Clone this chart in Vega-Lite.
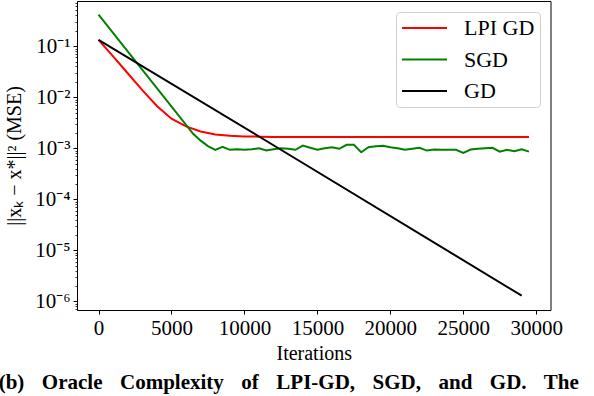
{
  "$schema": "https://vega.github.io/schema/vega-lite/v6.json",
  "width": 473.5,
  "height": 309,
  "autosize": {"type": "none"},
  "padding": {"left": 77, "top": 1, "right": 43.5, "bottom": 86},
  "config": {
    "font": "Liberation Serif",
    "view": {"stroke": "black", "strokeWidth": 1},
    "axis": {"domain": false, "grid": false, "tickColor": "black", "labelColor": "black", "titleColor": "black", "labelFont": "Liberation Serif", "titleFont": "Liberation Serif", "labelFontSize": 21, "titleFontSize": 20, "titleFontWeight": "normal"},
    "legend": {"labelFont": "Liberation Serif"},
    "title": {"font": "Liberation Serif"}
  },
  "title": {
    "text": "(b)\u2002\u200a Oracle\u2002\u200a Complexity\u2002\u200a of\u2002\u200a LPI-GD,\u2002\u200a SGD,\u2002\u200a and\u2002\u200a GD.\u2002\u200a The",
    "orient": "bottom",
    "anchor": "start",
    "frame": "bounds",
    "font": "Liberation Serif",
    "fontSize": 21,
    "fontWeight": "bold",
    "color": "black",
    "offset": 9,
    "dx": -6
  },
  "data": {
    "values": [
      {"method": "LPI GD", "iter": 0, "mse": 0.133},
      {"method": "LPI GD", "iter": 1000, "mse": 0.063},
      {"method": "LPI GD", "iter": 2000, "mse": 0.0295},
      {"method": "LPI GD", "iter": 3000, "mse": 0.0138},
      {"method": "LPI GD", "iter": 4000, "mse": 0.00676},
      {"method": "LPI GD", "iter": 5000, "mse": 0.0038},
      {"method": "LPI GD", "iter": 6000, "mse": 0.00269},
      {"method": "LPI GD", "iter": 7000, "mse": 0.00214},
      {"method": "LPI GD", "iter": 8000, "mse": 0.00186},
      {"method": "LPI GD", "iter": 9000, "mse": 0.00176},
      {"method": "LPI GD", "iter": 10000, "mse": 0.00171},
      {"method": "LPI GD", "iter": 11000, "mse": 0.00169},
      {"method": "LPI GD", "iter": 12000, "mse": 0.00167},
      {"method": "LPI GD", "iter": 15000, "mse": 0.00167},
      {"method": "LPI GD", "iter": 20000, "mse": 0.00167},
      {"method": "LPI GD", "iter": 25000, "mse": 0.00167},
      {"method": "LPI GD", "iter": 29500, "mse": 0.00167},
      {"method": "SGD", "iter": 0, "mse": 0.413},
      {"method": "SGD", "iter": 6500, "mse": 0.0019},
      {"method": "SGD", "iter": 7000, "mse": 0.00141},
      {"method": "SGD", "iter": 7500, "mse": 0.0011},
      {"method": "SGD", "iter": 8000, "mse": 0.000933},
      {"method": "SGD", "iter": 8500, "mse": 0.001072},
      {"method": "SGD", "iter": 9000, "mse": 0.000933},
      {"method": "SGD", "iter": 9500, "mse": 0.000955},
      {"method": "SGD", "iter": 10000, "mse": 0.000933},
      {"method": "SGD", "iter": 10500, "mse": 0.000955},
      {"method": "SGD", "iter": 11000, "mse": 0.001},
      {"method": "SGD", "iter": 11500, "mse": 0.000902},
      {"method": "SGD", "iter": 12000, "mse": 0.000955},
      {"method": "SGD", "iter": 12500, "mse": 0.001},
      {"method": "SGD", "iter": 13000, "mse": 0.000977},
      {"method": "SGD", "iter": 13500, "mse": 0.000933},
      {"method": "SGD", "iter": 14000, "mse": 0.00113},
      {"method": "SGD", "iter": 14500, "mse": 0.001023},
      {"method": "SGD", "iter": 15000, "mse": 0.000933},
      {"method": "SGD", "iter": 15500, "mse": 0.001},
      {"method": "SGD", "iter": 16000, "mse": 0.001047},
      {"method": "SGD", "iter": 16500, "mse": 0.000977},
      {"method": "SGD", "iter": 17000, "mse": 0.001167},
      {"method": "SGD", "iter": 17500, "mse": 0.001167},
      {"method": "SGD", "iter": 18000, "mse": 0.000836},
      {"method": "SGD", "iter": 18500, "mse": 0.001047},
      {"method": "SGD", "iter": 19000, "mse": 0.001096},
      {"method": "SGD", "iter": 19500, "mse": 0.001122},
      {"method": "SGD", "iter": 20000, "mse": 0.001047},
      {"method": "SGD", "iter": 20500, "mse": 0.001},
      {"method": "SGD", "iter": 21000, "mse": 0.000933},
      {"method": "SGD", "iter": 21500, "mse": 0.000977},
      {"method": "SGD", "iter": 22000, "mse": 0.001023},
      {"method": "SGD", "iter": 22500, "mse": 0.000902},
      {"method": "SGD", "iter": 23000, "mse": 0.000944},
      {"method": "SGD", "iter": 23500, "mse": 0.000933},
      {"method": "SGD", "iter": 24000, "mse": 0.000933},
      {"method": "SGD", "iter": 24500, "mse": 0.000933},
      {"method": "SGD", "iter": 25000, "mse": 0.000813},
      {"method": "SGD", "iter": 25500, "mse": 0.000944},
      {"method": "SGD", "iter": 26000, "mse": 0.000977},
      {"method": "SGD", "iter": 26500, "mse": 0.001},
      {"method": "SGD", "iter": 27000, "mse": 0.001023},
      {"method": "SGD", "iter": 27500, "mse": 0.000861},
      {"method": "SGD", "iter": 28000, "mse": 0.000933},
      {"method": "SGD", "iter": 28500, "mse": 0.000873},
      {"method": "SGD", "iter": 29000, "mse": 0.000955},
      {"method": "SGD", "iter": 29500, "mse": 0.000861},
      {"method": "GD", "iter": 0, "mse": 0.133},
      {"method": "GD", "iter": 11000, "mse": 0.0017},
      {"method": "GD", "iter": 29000, "mse": 0.0000013}
    ]
  },
  "mark": {"type": "line", "strokeWidth": 2},
  "encoding": {
    "x": {"field": "iter", "type": "quantitative", "scale": {"domain": [-1475, 30975], "nice": false, "zero": false},
      "axis": {"values": [0, 5000, 10000, 15000, 20000, 25000, 30000], "format": "d", "title": "Iterations", "tickSize": 4, "labelPadding": 3, "titlePadding": 5}},
    "y": {"field": "mse", "type": "quantitative", "scale": {"type": "log", "domain": [6.8e-7, 0.767], "nice": false},
      "axis": {"orient": "left",
        "values": [7e-7, 8e-7, 9e-7, 1e-6, 2e-6, 3e-6, 4e-6, 5e-6, 6e-6, 7e-6, 8e-6, 9e-6, 1e-5, 2e-5, 3e-5, 4e-5, 5e-5, 6e-5, 7e-5, 8e-5, 9e-5, 1e-4, 2e-4, 3e-4, 4e-4, 5e-4, 6e-4, 7e-4, 8e-4, 9e-4, 1e-3, 2e-3, 3e-3, 4e-3, 5e-3, 6e-3, 7e-3, 8e-3, 9e-3, 0.01, 0.02, 0.03, 0.04, 0.05, 0.06, 0.07, 0.08, 0.09, 0.1, 0.2, 0.3, 0.4, 0.5, 0.6, 0.7],
        "tickSize": {"condition": {"test": "abs(log(datum.value)/LN10 - round(log(datum.value)/LN10)) < 0.001", "value": 4}, "value": 2},
        "tickWidth": {"condition": {"test": "abs(log(datum.value)/LN10 - round(log(datum.value)/LN10)) < 0.001", "value": 1}, "value": 0.8},
        "labelPadding": 3, "titlePadding": 10,
        "labelExpr": "abs(log(datum.value)/LN10 - round(log(datum.value)/LN10)) > 0.001 ? '' : datum.value > 0.05 ? '10⁻¹' : datum.value > 0.005 ? '10⁻²' : datum.value > 0.0005 ? '10⁻³' : datum.value > 0.00005 ? '10⁻⁴' : datum.value > 0.000005 ? '10⁻⁵' : '10⁻⁶'",
        "title": "||xₖ − x*||² (MSE)"}},
    "color": {"field": "method", "type": "nominal",
      "scale": {"domain": ["LPI GD", "SGD", "GD"], "range": ["#ff0000", "#008000", "#000000"]},
      "legend": {"title": null, "orient": "top-right", "offset": 11, "symbolType": "stroke", "symbolSize": 2025, "symbolStrokeWidth": 2, "clipHeight": 22, "labelFont": "Liberation Serif", "labelFontSize": 22, "labelOffset": 16, "labelColor": "black", "rowPadding": 9.5, "padding": 5, "strokeColor": "#d0d0d0", "cornerRadius": 4, "fillColor": "white"}},
    "order": {"field": "iter", "type": "quantitative"}
  }
}
